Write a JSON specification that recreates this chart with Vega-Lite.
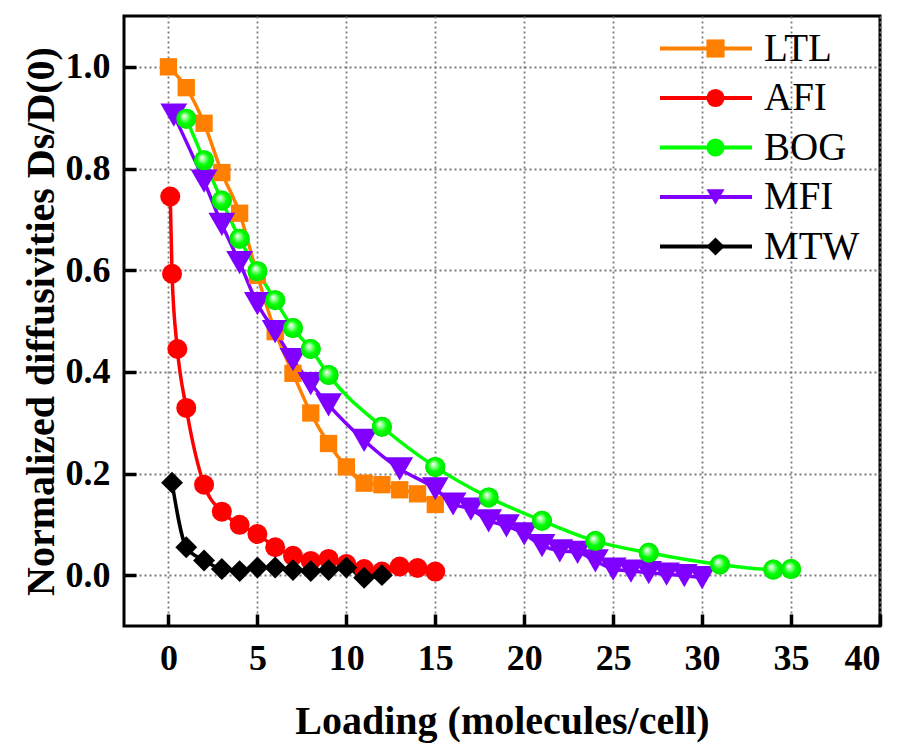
{
  "$schema": "https://vega.github.io/schema/vega-lite/v6.json",
  "width": 756,
  "height": 610,
  "autosize": "none",
  "padding": {"left": 124, "top": 16, "right": 24, "bottom": 119},
  "background": "white",
  "config": {
    "view": {"stroke": "black", "strokeWidth": 3},
    "font": "Liberation Serif",
    "axis": {
      "labelFont": "Liberation Serif",
      "labelFontWeight": "bold",
      "labelFontSize": 36,
      "labelColor": "black",
      "titleFont": "Liberation Serif",
      "titleFontWeight": "bold",
      "titleFontSize": 40,
      "titleColor": "black",
      "domain": false,
      "tickColor": "black",
      "tickWidth": 3.5,
      "tickSize": -12,
      "grid": true,
      "gridColor": "#7a7a7a",
      "gridDash": [2, 3],
      "gridWidth": 1.8,
      "gridOpacity": 1
    },
    "legend": {
      "orient": "none",
      "title": null,
      "padding": 0,
      "labelFont": "Liberation Serif",
      "labelFontSize": 39,
      "labelColor": "black",
      "clipHeight": 45,
      "rowPadding": 4.5
    }
  },
  "data": {
    "values": [
      {"series": "LTL", "loading": 0, "d": 1.0},
      {"series": "LTL", "loading": 1, "d": 0.959},
      {"series": "LTL", "loading": 2, "d": 0.889},
      {"series": "LTL", "loading": 3, "d": 0.792},
      {"series": "LTL", "loading": 4, "d": 0.712},
      {"series": "LTL", "loading": 5, "d": 0.59},
      {"series": "LTL", "loading": 6, "d": 0.479},
      {"series": "LTL", "loading": 7, "d": 0.397},
      {"series": "LTL", "loading": 8, "d": 0.319},
      {"series": "LTL", "loading": 9, "d": 0.259},
      {"series": "LTL", "loading": 10, "d": 0.213},
      {"series": "LTL", "loading": 11, "d": 0.181},
      {"series": "LTL", "loading": 12, "d": 0.178},
      {"series": "LTL", "loading": 13, "d": 0.168},
      {"series": "LTL", "loading": 14, "d": 0.16},
      {"series": "LTL", "loading": 15, "d": 0.139},
      {"series": "AFI", "loading": 0.1, "d": 0.745},
      {"series": "AFI", "loading": 0.2, "d": 0.593},
      {"series": "AFI", "loading": 0.5, "d": 0.445},
      {"series": "AFI", "loading": 1, "d": 0.329},
      {"series": "AFI", "loading": 2, "d": 0.178},
      {"series": "AFI", "loading": 3, "d": 0.125},
      {"series": "AFI", "loading": 4, "d": 0.099},
      {"series": "AFI", "loading": 5, "d": 0.081},
      {"series": "AFI", "loading": 6, "d": 0.055},
      {"series": "AFI", "loading": 7, "d": 0.038},
      {"series": "AFI", "loading": 8, "d": 0.028},
      {"series": "AFI", "loading": 9, "d": 0.032},
      {"series": "AFI", "loading": 10, "d": 0.022},
      {"series": "AFI", "loading": 11, "d": 0.012},
      {"series": "AFI", "loading": 12, "d": 0.007},
      {"series": "AFI", "loading": 13, "d": 0.017},
      {"series": "AFI", "loading": 14, "d": 0.014},
      {"series": "AFI", "loading": 15, "d": 0.007},
      {"series": "BOG", "loading": 1, "d": 0.898},
      {"series": "BOG", "loading": 2, "d": 0.816},
      {"series": "BOG", "loading": 3, "d": 0.737},
      {"series": "BOG", "loading": 4, "d": 0.662},
      {"series": "BOG", "loading": 5, "d": 0.598},
      {"series": "BOG", "loading": 6, "d": 0.541},
      {"series": "BOG", "loading": 7, "d": 0.486},
      {"series": "BOG", "loading": 8, "d": 0.445},
      {"series": "BOG", "loading": 9, "d": 0.394},
      {"series": "BOG", "loading": 12, "d": 0.292},
      {"series": "BOG", "loading": 15, "d": 0.213},
      {"series": "BOG", "loading": 18, "d": 0.153},
      {"series": "BOG", "loading": 21, "d": 0.107},
      {"series": "BOG", "loading": 24, "d": 0.067},
      {"series": "BOG", "loading": 27, "d": 0.044},
      {"series": "BOG", "loading": 31, "d": 0.021},
      {"series": "BOG", "loading": 34, "d": 0.011},
      {"series": "BOG", "loading": 35, "d": 0.012},
      {"series": "MFI", "loading": 0.3, "d": 0.905},
      {"series": "MFI", "loading": 2, "d": 0.775},
      {"series": "MFI", "loading": 3, "d": 0.69},
      {"series": "MFI", "loading": 4, "d": 0.615},
      {"series": "MFI", "loading": 5, "d": 0.534},
      {"series": "MFI", "loading": 6, "d": 0.479},
      {"series": "MFI", "loading": 7, "d": 0.424},
      {"series": "MFI", "loading": 8, "d": 0.377},
      {"series": "MFI", "loading": 9, "d": 0.335},
      {"series": "MFI", "loading": 11, "d": 0.265},
      {"series": "MFI", "loading": 13, "d": 0.209},
      {"series": "MFI", "loading": 15, "d": 0.17},
      {"series": "MFI", "loading": 16, "d": 0.14},
      {"series": "MFI", "loading": 17, "d": 0.13},
      {"series": "MFI", "loading": 18, "d": 0.107},
      {"series": "MFI", "loading": 19, "d": 0.097},
      {"series": "MFI", "loading": 20, "d": 0.081},
      {"series": "MFI", "loading": 21, "d": 0.058},
      {"series": "MFI", "loading": 22, "d": 0.048},
      {"series": "MFI", "loading": 23, "d": 0.045},
      {"series": "MFI", "loading": 24, "d": 0.028},
      {"series": "MFI", "loading": 25, "d": 0.012},
      {"series": "MFI", "loading": 26, "d": 0.008},
      {"series": "MFI", "loading": 27, "d": 0.005},
      {"series": "MFI", "loading": 28, "d": 0.002},
      {"series": "MFI", "loading": 29, "d": -0.001},
      {"series": "MFI", "loading": 30, "d": -0.005},
      {"series": "MTW", "loading": 0.2, "d": 0.182},
      {"series": "MTW", "loading": 1, "d": 0.055},
      {"series": "MTW", "loading": 2, "d": 0.029},
      {"series": "MTW", "loading": 3, "d": 0.012},
      {"series": "MTW", "loading": 4, "d": 0.008},
      {"series": "MTW", "loading": 5, "d": 0.015},
      {"series": "MTW", "loading": 6, "d": 0.015},
      {"series": "MTW", "loading": 7, "d": 0.01},
      {"series": "MTW", "loading": 8, "d": 0.008},
      {"series": "MTW", "loading": 9, "d": 0.01},
      {"series": "MTW", "loading": 10, "d": 0.015},
      {"series": "MTW", "loading": 11, "d": -0.005},
      {"series": "MTW", "loading": 12, "d": 0.0}
    ]
  },
  "encoding": {
    "x": {
      "field": "loading",
      "type": "quantitative",
      "scale": {"domain": [-2.5, 40], "nice": false, "zero": false},
      "axis": {
        "title": "Loading (molecules/cell)",
        "values": [0, 5, 10, 15, 20, 25, 30, 35, 40],
        "labelPadding": 27,
        "titlePadding": 25
      }
    },
    "y": {
      "field": "d",
      "type": "quantitative",
      "scale": {"domain": [-0.1, 1.1], "nice": false, "zero": false},
      "axis": {
        "title": "Normalized diffusivities Ds/D(0)",
        "values": [0, 0.2, 0.4, 0.6, 0.8, 1.0],
        "format": ".1f",
        "labelPadding": 26,
        "titlePadding": 4
      }
    }
  },
  "layer": [
    {
      "mark": {"type": "line", "strokeWidth": 3.5, "interpolate": "monotone"},
      "encoding": {
        "color": {
          "field": "series",
          "type": "nominal",
          "sort": ["LTL", "AFI", "BOG", "MFI", "MTW"],
          "scale": {
            "domain": ["LTL", "AFI", "BOG", "MFI", "MTW"],
            "range": ["#ff8000", "#ff0000", "#00ff00", "#8000ff", "#000000"]
          },
          "legend": {
            "legendX": 534,
            "legendY": 10,
            "symbolType": "stroke",
            "symbolSize": 8464,
            "symbolStrokeWidth": 4,
            "labelOffset": 10
          }
        }
      }
    },
    {
      "mark": {"type": "point", "filled": true, "opacity": 1},
      "encoding": {
        "color": {
          "field": "series",
          "type": "nominal",
          "sort": ["LTL", "AFI", "BOG", "MFI", "MTW"],
          "legend": {
            "legendX": 572,
            "legendY": 10,
            "symbolSize": 330,
            "symbolStrokeWidth": 0,
            "symbolOpacity": 1,
            "labelExpr": "''"
          }
        },
        "shape": {
          "field": "series",
          "type": "nominal",
          "sort": ["LTL", "AFI", "BOG", "MFI", "MTW"],
          "scale": {
            "domain": ["LTL", "AFI", "BOG", "MFI", "MTW"],
            "range": ["square", "circle", "circle", "triangle-down", "diamond"]
          },
          "legend": {
            "legendX": 572,
            "legendY": 10,
            "symbolSize": 330,
            "symbolStrokeWidth": 0,
            "symbolOpacity": 1,
            "labelExpr": "''"
          }
        },
        "size": {
          "condition": [
            {"test": "datum.series === 'MFI'", "value": 720},
            {"test": "datum.series === 'MTW'", "value": 480},
            {"test": "datum.series === 'LTL'", "value": 300}
          ],
          "value": 400
        }
      }
    },
    {
      "transform": [{"filter": "datum.series === 'BOG'"}],
      "mark": {
        "type": "point",
        "shape": "circle",
        "filled": true,
        "opacity": 1,
        "size": 400,
        "fill": {
          "gradient": "radial",
          "x1": 0.38, "y1": 0.35, "r1": 0,
          "x2": 0.5, "y2": 0.5, "r2": 0.5,
          "stops": [
            {"offset": 0, "color": "#ffffff"},
            {"offset": 0.3, "color": "#88ff88"},
            {"offset": 0.6, "color": "#00ff00"},
            {"offset": 1, "color": "#00e600"}
          ]
        }
      }
    }
  ],
  "resolve": {"legend": {"color": "independent", "shape": "independent"}}
}
